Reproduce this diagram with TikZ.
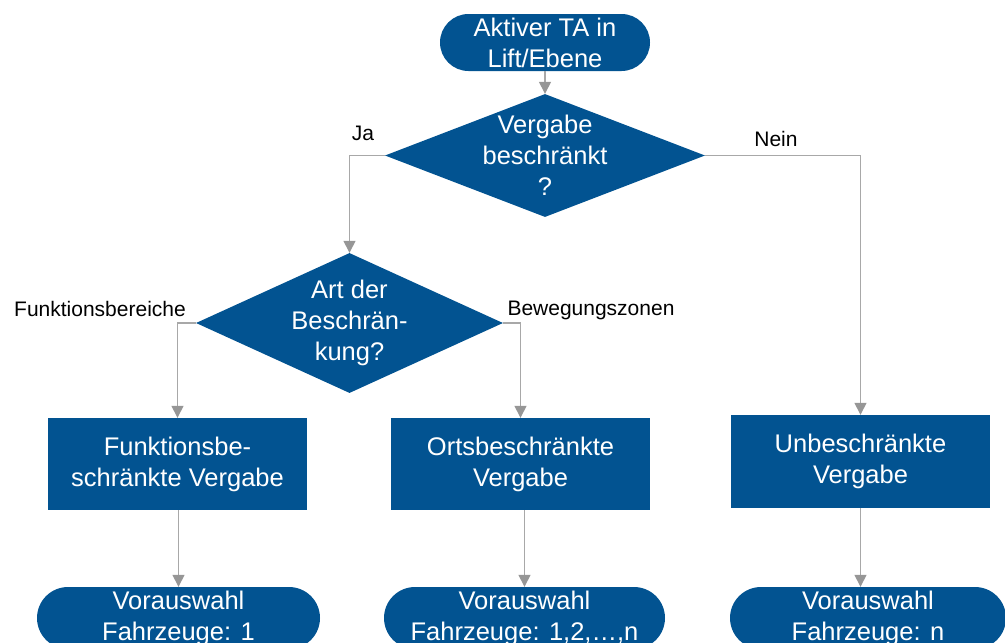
\documentclass[tikz,border=0pt]{standalone}
\usepackage{fontspec}
\setmainfont{Liberation Sans}
\usetikzlibrary{shapes.geometric,shapes.misc,arrows.meta}

\definecolor{flowblue}{RGB}{2,83,145}
\definecolor{linegray}{RGB}{168,168,168}
\definecolor{tipgray}{RGB}{150,150,150}

\tikzset{
  boxtext/.style={font=\fontsize{25.5}{31}\selectfont, text=white, align=center},
  terminal/.style={rounded rectangle, fill=flowblue, inner sep=0pt, boxtext},
  decision/.style={diamond, fill=flowblue, inner sep=0pt},
  process/.style={rectangle, fill=flowblue, inner sep=0pt, boxtext,
    minimum width=259pt, minimum height=92pt},
  edgelabel/.style={font=\fontsize{21}{25}\selectfont, text=black, anchor=base, inner sep=0pt},
  flow/.style={draw=linegray, line width=1.4pt,
    -{Triangle[width=12pt,length=12pt,color=tipgray]}},
}

\begin{document}
\begin{tikzpicture}[x=1pt,y=-1pt]
  \useasboundingbox (0,0) rectangle (1005,643);
  \clip (0,0) rectangle (1005,643);

  % start terminal
  \node[terminal, minimum width=210pt, minimum height=57pt] (start) at (545,42.5)
    {Aktiver TA in\\Lift/Ebene};

  % decisions
  \node[decision, minimum width=320pt, minimum height=123pt,
        label={[name=d1t, boxtext]center:Vergabe\\beschränkt\\?}] (d1) at (545,155.5) {};
  \node[decision, minimum width=307pt, minimum height=140pt,
        label={[name=d2t, boxtext]center:Art der\\Beschrän-\\kung?}] (d2) at (349.5,323) {};

  % process boxes
  \node[process] (b1) at (177.5,464) {Funktionsbe-\\schränkte Vergabe};
  \node[process] (b2) at (520.5,464) {Ortsbeschränkte\\Vergabe};
  \node[process, minimum height=93pt] (b3) at (860.5,461.5) {Unbeschränkte\\Vergabe};

  % result terminals
  \node[terminal, minimum width=283pt, minimum height=62pt] (e1) at (178.5,618)
    {Vorauswahl\\Fahrzeuge: 1};
  \node[terminal, minimum width=281pt, minimum height=62pt] (e2) at (524.5,618)
    {Vorauswahl\\Fahrzeuge: 1,2,…,n};
  \node[terminal, minimum width=276pt, minimum height=62pt] (e3) at (868,618)
    {Vorauswahl\\Fahrzeuge: n};

  % connectors
  \draw[flow] (start.south) -- (d1.north);
  \draw[flow] (d1.west) -| (d2.north);
  \draw[flow] (d1.east) -| (b3.north);
  \draw[flow] (d2.west) -| (b1.north);
  \draw[flow] (d2.east) -| (b2.north);
  \draw[flow] (e1.north |- b1.south) -- (e1.north);
  \draw[flow] (e2.north |- b2.south) -- (e2.north);
  \draw[flow] (b3.south) -- (b3.south |- e3.north);

  % branch labels
  \node[edgelabel] (lja) at (363,140) {Ja};
  \node[edgelabel] (lnein) at (776,146) {Nein};
  \node[edgelabel] (lfb) at (100,316) {Funktionsbereiche};
  \node[edgelabel] (lbz) at (591,315) {Bewegungszonen};
\end{tikzpicture}
\end{document}
